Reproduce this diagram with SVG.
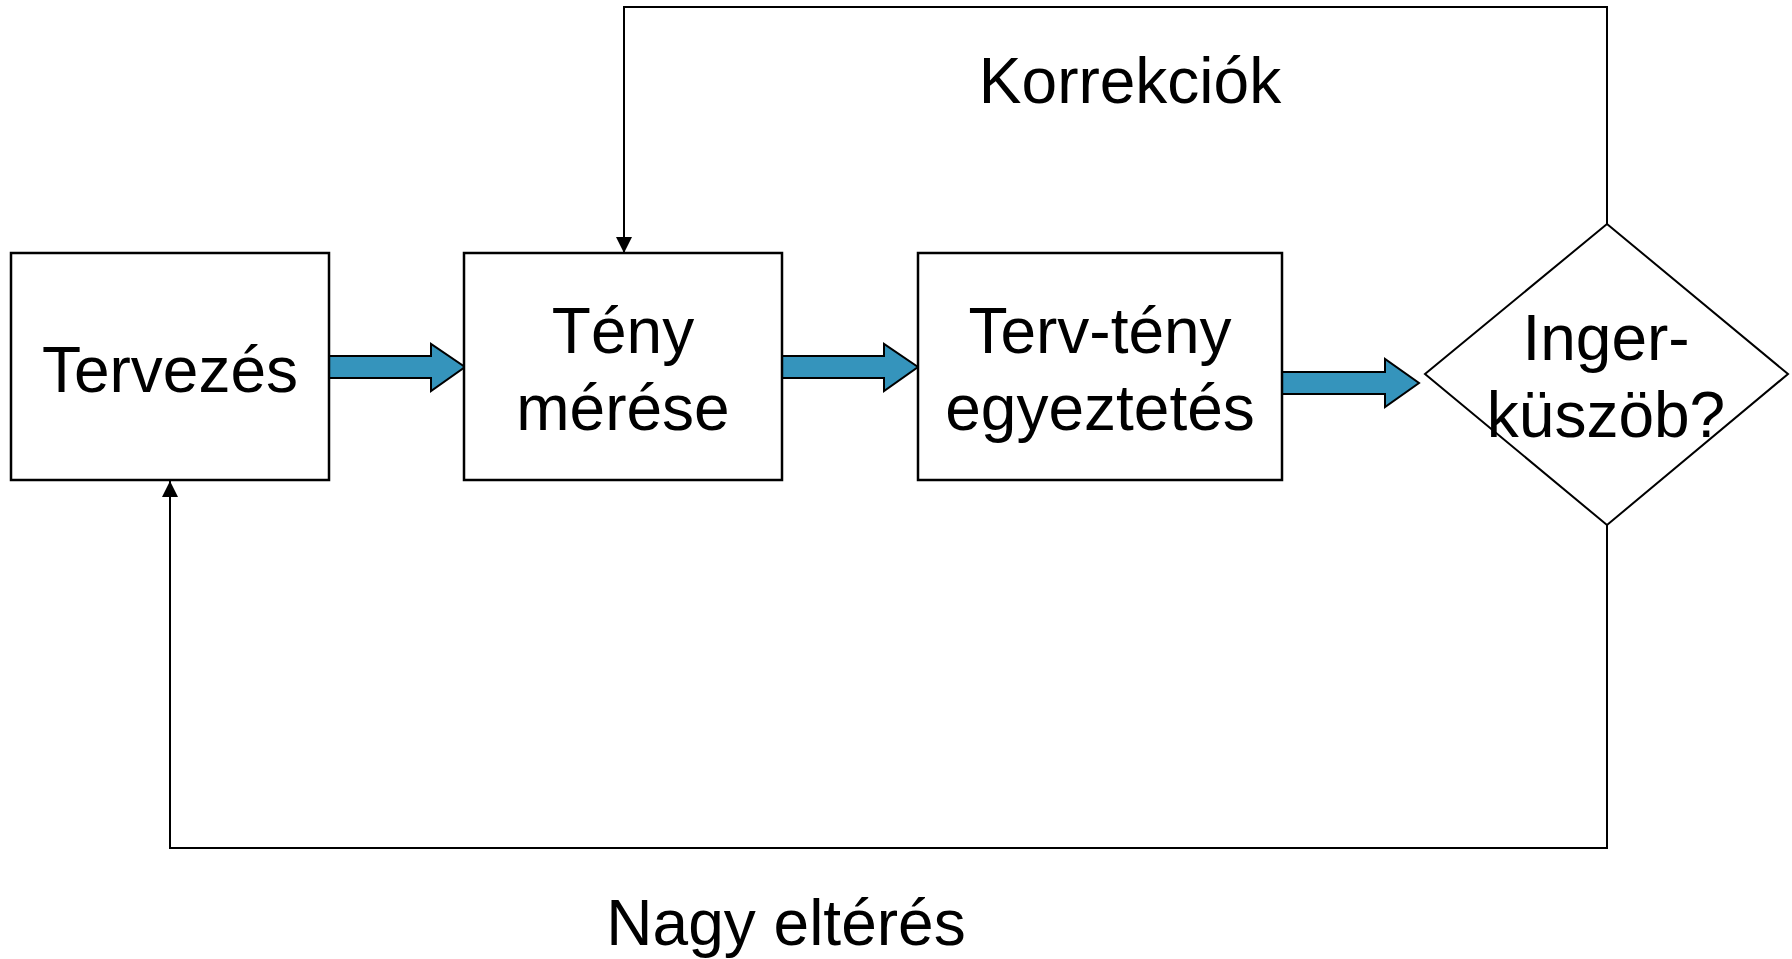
<svg xmlns="http://www.w3.org/2000/svg" width="1792" height="959" viewBox="0 0 1792 959">
<style>
.box{fill:#fff;stroke:#000;stroke-width:2.5}
.blk{fill:#3594BC;stroke:#000;stroke-width:2}
.lbl{font-family:"Liberation Sans",Arial,sans-serif;font-size:64px;fill:#000;text-anchor:middle}
.con{fill:none;stroke:#000;stroke-width:2}
</style>
<defs>
<marker id="ah" markerUnits="userSpaceOnUse" markerWidth="16" markerHeight="18" viewBox="0 0 16 18" refX="16" refY="8" orient="auto">
<path d="M0,0 L16,8 L0,16 Z" fill="#000"/>
</marker>
</defs>
<rect width="1792" height="959" fill="#fff"/>
<g id="connectors">
<polyline class="con" points="1607,224 1607,7 624,7 624,253" marker-end="url(#ah)"/>
<polyline class="con" points="1607,525 1607,848 170,848 170,481" marker-end="url(#ah)"/>
<polygon class="blk" points="329,356 431,356 431,344 465,367 431,391 431,378 329,378"/>
<polygon class="blk" points="782,356 884,356 884,344 918,367 884,391 884,378 782,378"/>
<polygon class="blk" points="1282,372 1385,372 1385,359 1419,383 1385,407 1385,394 1282,394"/>
<text class="lbl" x="1130" y="103">Korrekciók</text>
<text class="lbl" x="786" y="945">Nagy eltérés</text>
</g>
<g id="tervezes">
<rect class="box" x="11" y="253" width="318" height="227"/>
<text class="lbl" x="170" y="392">Tervezés</text>
</g>
<g id="teny-merese">
<rect class="box" x="464" y="253" width="318" height="227"/>
<text class="lbl" x="623" y="353">Tény</text>
<text class="lbl" x="623" y="430">mérése</text>
</g>
<g id="terv-teny">
<rect class="box" x="918" y="253" width="364" height="227"/>
<text class="lbl" x="1100" y="353">Terv-tény</text>
<text class="lbl" x="1100" y="430">egyeztetés</text>
</g>
<g id="ingerkuszob">
<polygon points="1607,224 1788,374 1607,525 1425,374" fill="#fff" stroke="#000" stroke-width="2"/>
<text class="lbl" x="1606" y="360">Inger-</text>
<text class="lbl" x="1606" y="437">küszöb?</text>
</g>
</svg>
